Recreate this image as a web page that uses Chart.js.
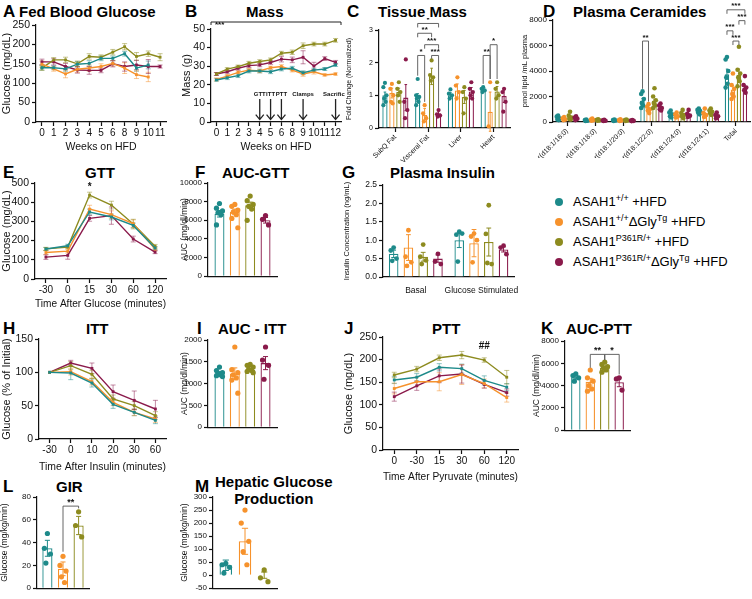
<!DOCTYPE html>
<html>
<head>
<meta charset="utf-8">
<title>ASAH1 HFD panels</title>
<script src="https://cdn.jsdelivr.net/npm/chart.js@4.4.1/dist/chart.umd.min.js"></script>
<style>
  body { margin: 0; width: 752px; height: 599px; position: relative; background: #fff; overflow: hidden;
         font-family: "Liberation Sans", Arial, Helvetica, sans-serif; color: #000; }
  canvas { position: absolute; }
  .let { position: absolute; font-weight: bold; font-size: 17px; line-height: 1; }
  .ttl { position: absolute; font-weight: bold; font-size: 15px; line-height: 1; white-space: nowrap; }
  #legend { position: absolute; left: 553px; top: 193px; font-size: 13px; }
  #legend div { height: 20px; line-height: 18px; position: relative; padding-left: 20px; white-space: nowrap; }
  #legend i { position: absolute; left: 2px; top: 5px; width: 8px; height: 8px; border-radius: 50%; }
  #legend sup { font-size: 9px; vertical-align: 5px; line-height: 0; }
</style>
</head>
<body>
<div class="let" style="left:3px;top:3px">A</div><div class="ttl" style="left:19px;top:4px">Fed Blood Glucose</div>
<div class="let" style="left:185px;top:3px">B</div><div class="ttl" style="left:246px;top:4px">Mass</div>
<div class="let" style="left:347px;top:3px">C</div><div class="ttl" style="left:378px;top:4px">Tissue Mass</div>
<div class="let" style="left:543px;top:3px">D</div><div class="ttl" style="left:573px;top:4px">Plasma Ceramides</div>
<div class="let" style="left:3px;top:164px">E</div><div class="ttl" style="left:85px;top:165px">GTT</div>
<div class="let" style="left:195px;top:164px">F</div><div class="ttl" style="left:222px;top:165px">AUC-GTT</div>
<div class="let" style="left:342px;top:164px">G</div><div class="ttl" style="left:390px;top:165px">Plasma Insulin</div>
<div class="let" style="left:3px;top:320px">H</div><div class="ttl" style="left:86px;top:321px">ITT</div>
<div class="let" style="left:197px;top:320px">I</div><div class="ttl" style="left:218px;top:321px">AUC - ITT</div>
<div class="let" style="left:344px;top:320px">J</div><div class="ttl" style="left:432px;top:321px">PTT</div>
<div class="let" style="left:541px;top:320px">K</div><div class="ttl" style="left:566px;top:321px">AUC-PTT</div>
<div class="let" style="left:3px;top:478px">L</div><div class="ttl" style="left:56px;top:479px">GIR</div>
<div class="let" style="left:195px;top:478px">M</div><div class="ttl" style="left:215px;top:473px;line-height:17px;text-align:center">Hepatic Glucose<br>Production</div>

<div id="legend">
  <div><i style="background:#1d8a8a"></i>ASAH1<sup>+/+</sup> +HFD</div>
  <div><i style="background:#f6922c"></i>ASAH1<sup>+/+</sup>ΔGly<sup>Tg</sup> +HFD</div>
  <div><i style="background:#8d8b1f"></i>ASAH1<sup>P361R/+</sup> +HFD</div>
  <div><i style="background:#8a1a4b"></i>ASAH1<sup>P361R/+</sup>ΔGly<sup>Tg</sup> +HFD</div>
</div>

<canvas id="cA"></canvas><canvas id="cB"></canvas><canvas id="cC"></canvas><canvas id="cD"></canvas>
<canvas id="cE"></canvas><canvas id="cF"></canvas><canvas id="cG"></canvas>
<canvas id="cH"></canvas><canvas id="cI"></canvas><canvas id="cJ"></canvas><canvas id="cK"></canvas>
<canvas id="cL"></canvas><canvas id="cM"></canvas>

<script>
// group colours: ASAH1+/+, +/+ dGly, P361R/+, P361R/+ dGly
const COLORS = ['#1d8a8a', '#f6922c', '#8d8b1f', '#8a1a4b'];

// A - fed blood glucose (mg/dL)
const fedWeeks = ['0', '1', '2', '3', '4', '5', '6', '8', '9', '10', '11'];
const fedTeal = [140, 140, 137, 149, 151, 164, 164, 176, 139, 147, null];
const fedOrange = [149, 137, 124, 136, 139, 143, 151, 139, 122, 116, null];
const fedOlive = [139, 160, 160, 150, 169, 167, 180, 194, 169, 176, 167];
const fedMaroon = [155, 155, 143, 134, 133, 133, 150, 143, 147, 143, 143];
const fedTealErr = [6, 5, 6, 7, 7, 6, 6, 6, 8, 10, 0];
const fedOrangeErr = [8, 6, 10, 8, 8, 7, 7, 14, 10, 12, 0];
const fedOliveErr = [6, 6, 7, 7, 7, 6, 7, 8, 10, 7, 9];
const fedMaroonErr = [7, 8, 8, 8, 10, 6, 8, 12, 12, 18, 4];

// B - body mass (g)
const massWeeks = ['0', '1', '2', '3', '4', '5', '6', '8', '9', '10', '11', '12'];
const massTeal = [22.6, 23.8, 24.9, 27.4, 27.4, 27.0, 28.5, 28.9, 26.5, 27.9, 28.5, 30.7];
const massOrange = [22.9, 24.7, 26.7, 27.9, 27.4, 29.2, 29.8, 27.9, 25.8, 27.0, 25.3, 25.8];
const massOlive = [25.8, 28.4, 29.8, 31.6, 32.5, 33.4, 37.0, 37.5, 41.0, 41.9, 41.9, 43.9];
const massMaroon = [25.8, 27.0, 28.9, 30.3, 30.7, 32.0, 33.8, 33.4, 34.8, 30.1, 34.1, 32.1];
const massTealErr = [0.6, 1, 1, 1, 1, 1, 1, 1, 1, 1, 0.8, 0.8];
const massOrangeErr = [0.8, 0.8, 0.8, 0.8, 0.9, 0.8, 1, 1, 1.2, 1.2, 0.6, 0.6];
const massOliveErr = [0.7, 0.8, 0.8, 1, 1, 1, 1, 1.2, 1.5, 1, 1, 1];
const massMaroonErr = [0.8, 0.8, 1, 1, 1, 1, 1.5, 1.5, 3.5, 2, 1, 1];
const massEventWeeks = ['4', '5', '6', '9', '12'];
const massEventNames = ['GTT', 'ITT', 'PTT', 'Clamps', 'Sacrifice'];

// C - tissue mass (fold change)
const tissueCats = ['SubQ Fat', 'Visceral Fat', 'Liver', 'Heart'];
const tissueTeal = [1.0, 0.93, 1.0, 1.18];
const tissueOrange = [1.07, 0.4, 1.15, 0.5];
const tissueOlive = [1.1, 1.58, 0.95, 1.12];
const tissueMaroon = [0.93, 0.45, 1.12, 0.98];
const tissueTealErr = [0.1, 0.12, 0.08, 0.05];
const tissueOrangeErr = [0.15, 0.2, 0.2, 0.6];
const tissueOliveErr = [0.12, 0.25, 0.2, 0.15];
const tissueMaroonErr = [0.4, 0.08, 0.12, 0.2];
const tissuePtsTeal = [[1.38, 1.25, 1.0, 0.9, 0.8, 0.7], [1.5, 1.0, 0.95, 0.9, 0.8, 0.7], [1.18, 1.05, 1.0, 0.9], [1.25, 1.2, 1.15, 1.1]];
const tissuePtsOrange = [[1.35, 1.2, 1.0, 0.8, 0.75], [0.7, 0.45, 0.3, 0.2], [1.55, 1.3, 1.1, 0.9], [1.4, 0.05]];
const tissuePtsOlive = [[1.4, 1.2, 1.1, 1.0, 0.8], [2.07, 1.62, 1.55, 1.45], [1.25, 1.1, 0.9, 0.45], [1.4, 1.2, 1.0, 0.9]];
const tissuePtsMaroon = [[2.1, 0.8, 0.55, 0.3], [0.55, 0.42, 0.38, 0.35], [1.4, 1.2, 1.1, 1.0, 0.9], [1.2, 1.1, 0.8, 0.5]];

// D - plasma ceramides (pmol lipid / mL plasma)
const cerCats = ['Cer(d18:1/16:0)', 'Cer(d18:1/18:0)', 'Cer(d18:1/20:0)', 'Cer(d18:1/22:0)', 'Cer(d18:1/24:0)', 'Cer(d18:1/24:1)', 'Total'];
const cerTeal = [300, 120, 130, 1650, 600, 850, 3750];
const cerOrange = [250, 180, 130, 1000, 500, 600, 2550];
const cerOlive = [400, 150, 130, 1500, 550, 800, 3700];
const cerMaroon = [300, 120, 100, 1150, 550, 500, 2700];
const cerTealErr = [80, 30, 30, 200, 100, 80, 400];
const cerOrangeErr = [60, 40, 30, 150, 80, 120, 300];
const cerOliveErr = [120, 30, 30, 250, 110, 90, 450];
const cerMaroonErr = [70, 25, 20, 120, 100, 90, 200];
const cerPtsTeal = [[500, 420, 300, 200, 150], [200, 150, 100, 80], [200, 150, 120, 80], [2400, 2200, 1800, 1500, 1300, 1100], [900, 750, 600, 450, 350], [1050, 950, 850, 750, 600], [5100, 4900, 4000, 3500, 3000, 2700]];
const cerPtsOrange = [[380, 300, 200, 150], [280, 200, 150, 100], [220, 160, 120, 80], [1400, 1200, 1000, 900, 700], [750, 600, 450, 350], [1050, 700, 550, 400], [3800, 2900, 2600, 2200, 2000, 1800]];
const cerPtsOlive = [[800, 500, 350, 250, 200], [220, 180, 130, 100], [200, 150, 120, 90], [2650, 2000, 1700, 1500, 1300, 1100], [950, 700, 550, 450, 300], [1050, 900, 800, 700, 550], [5900, 4100, 3800, 3500, 3200, 2800]];
const cerPtsMaroon = [[450, 350, 250, 150], [180, 130, 100, 80], [150, 120, 90, 70], [1450, 1300, 1100, 1000, 900], [950, 650, 500, 400], [750, 550, 450, 300], [3600, 2900, 2700, 2500, 2300]];

// E - GTT (mg/dL)
const gttTimes = ['-30', '0', '15', '30', '60', '120'];
const gttTeal = [156, 173, 349, 323, 279, 161];
const gttOrange = [138, 145, 364, 335, 288, 156];
const gttOlive = [157, 166, 437, 385, 286, 170];
const gttMaroon = [114, 123, 316, 330, 208, 140];
const gttTealErr = [8, 8, 15, 15, 12, 8];
const gttOrangeErr = [10, 10, 20, 20, 20, 10];
const gttOliveErr = [8, 8, 15, 20, 25, 10];
const gttMaroonErr = [12, 20, 15, 45, 15, 8];

// F - AUC GTT
const aucGttMean = [6700, 6900, 7600, 6000];
const aucGttErr = [350, 300, 350, 300];
const aucGttPts = [[7800, 7300, 7000, 6800, 6600, 5500], [7700, 7500, 7100, 6900, 6600, 6200, 5200], [8600, 8100, 7700, 7500, 7200, 6000], [6500, 6100, 5500]];

// G - plasma insulin (ng/mL)
const insulinCats = ['Basal', 'Glucose Stimulated'];
const insTeal = [0.63, 1.0];
const insOrange = [0.8, 0.92];
const insOlive = [0.55, 0.95];
const insMaroon = [0.5, 0.75];
const insTealErr = [0.1, 0.2];
const insOrangeErr = [0.35, 0.37];
const insOliveErr = [0.12, 0.38];
const insMaroonErr = [0.1, 0.07];
const insPtsTeal = [[0.8, 0.72, 0.5, 0.44], [1.23, 1.15, 1.18, 0.42]];
const insPtsOrange = [[1.27, 0.55, 0.4, 0.3], [1.18, 1.1, 1.0, 0.4]];
const insPtsOlive = [[0.88, 0.55, 0.45, 0.35], [1.95, 1.17, 0.35, 0.38]];
const insPtsMaroon = [[0.63, 0.42, 0.35], [0.85, 0.8, 0.62]];

// H - ITT (% of initial)
const ittTimes = ['-30', '0', '10', '20', '30', '60'];
const ittTeal = [100, 99, 84, 52, 40, 28];
const ittOrange = [100, 101, 86, 55, 40, 30];
const ittOlive = [100, 110, 97, 60, 50, 35];
const ittMaroon = [100, 114, 106, 71, 58, 45];
const ittTealErr = [0, 10, 6, 6, 5, 5];
const ittOrangeErr = [0, 5, 5, 5, 5, 5];
const ittOliveErr = [0, 6, 6, 6, 6, 6];
const ittMaroonErr = [0, 4, 8, 10, 14, 13];

// I - AUC ITT
const aucIttMean = [1240, 1230, 1310, 1470];
const aucIttErr = [40, 130, 30, 150];
const aucIttPts = [[1380, 1300, 1250, 1220, 1200, 1180, 1160], [1840, 1320, 1250, 1200, 1130, 1080, 780], [1440, 1420, 1380, 1330, 1300, 1280, 1250], [1840, 1540, 1420, 1100]];

// J - PTT (mg/dL)
const pttTimes = ['0', '-30', '15', '30', '60', '120'];
const pttTeal = [155, 161, 183, 180, 154, 139];
const pttOrange = [136, 151, 151, 167, 147, 116];
const pttOlive = [166, 179, 204, 210, 199, 161];
const pttMaroon = [118, 142, 164, 168, 145, 127];
const pttTealErr = [8, 8, 8, 10, 10, 8];
const pttOrangeErr = [12, 10, 20, 22, 10, 10];
const pttOliveErr = [6, 6, 6, 8, 5, 15];
const pttMaroonErr = [10, 10, 15, 20, 8, 8];

// K - AUC PTT
const aucPttMean = [4750, 4350, 5600, 4300];
const aucPttErr = [150, 300, 150, 400];
const aucPttPts = [[5050, 4900, 4700, 4400], [5400, 4700, 4400, 4000, 3700, 3500], [6100, 5900, 5700, 5600, 5400, 5200], [4700, 4600, 3600]];

// L - GIR (mg/kg/min), three groups
const girMean = [35, 17, 55];
const girErr = [7, 6, 8];
const girPts = [[48, 35, 30, 22], [28, 20, 15, 10, 5], [67, 55, 45]];

// M - hepatic glucose production (mg/kg/min), three groups
const hgpMean = [38, 130, 0];
const hgpErr = [20, 50, 12];
const hgpPts = [[45, 40, 30, 8], [250, 200, 130, 90, 40], [20, -10, -25]];

Chart.defaults.font.family = '"Liberation Sans", Arial, sans-serif';
Chart.defaults.color = '#111';
Chart.defaults.animation = false;
Chart.defaults.plugins.legend.display = false;
Chart.defaults.plugins.tooltip.enabled = false;

function place(id, left, top, w, h) {
  const c = document.getElementById(id);
  c.width = w; c.height = h;
  c.style.left = left + 'px'; c.style.top = top + 'px';
  return c;
}

function yAxis(min, max, step, title, tSize, sSize, w, fmt) {
  return {
    min: min, max: max,
    afterFit: s => { s.width = w; },
    border: { color: '#111', width: 1.2 },
    grid: { drawOnChartArea: false, color: '#111', tickLength: 4, tickWidth: 1.2 },
    ticks: { stepSize: step, font: { size: tSize }, color: '#111', padding: 2, callback: fmt || (v => String(v)) },
    title: { display: !!title, text: title, font: { size: sSize }, color: '#111', padding: { top: 0, bottom: 2 } }
  };
}

function xAxis(title, tSize, sSize, h, pad, extra) {
  return Object.assign({
    offset: true,
    afterFit: s => { s.height = h; },
    border: { color: '#111', width: 1.2 },
    grid: { drawOnChartArea: false, offset: false, color: '#111', tickLength: 4, tickWidth: 1.2 },
    ticks: { font: { size: tSize }, color: '#111', padding: pad, autoSkip: false, maxRotation: 0 },
    title: { display: !!title, text: title, font: { size: sSize }, color: '#111', padding: { top: 2, bottom: 3 } }
  }, extra || {});
}

function xBlank(h) {
  return {
    afterFit: s => { s.height = h; },
    border: { color: '#111', width: 1.2 },
    grid: { display: false },
    ticks: { display: false }
  };
}

// error bars behind line series
const lineErr = {
  id: 'lineErr',
  beforeDatasetsDraw(chart) {
    const ctx = chart.ctx, ys = chart.scales.y;
    chart.data.datasets.forEach((ds, di) => {
      const meta = chart.getDatasetMeta(di);
      ctx.save();
      ctx.strokeStyle = ds.borderColor;
      ctx.globalAlpha = 0.5;
      ctx.lineWidth = 1;
      meta.data.forEach((pt, i) => {
        const v = ds.data[i], e = ds.errs[i];
        if (v == null || !e) return;
        const t = ys.getPixelForValue(v + e), b = ys.getPixelForValue(v - e);
        ctx.beginPath();
        ctx.moveTo(pt.x, t); ctx.lineTo(pt.x, b);
        ctx.moveTo(pt.x - 2.5, t); ctx.lineTo(pt.x + 2.5, t);
        ctx.moveTo(pt.x - 2.5, b); ctx.lineTo(pt.x + 2.5, b);
        ctx.stroke();
      });
      ctx.restore();
    });
  }
};

// error bars + individual animals on bars
const JIT = [0, -0.3, 0.3, -0.15, 0.15, -0.3, 0.3, 0];
const barMarks = {
  id: 'barMarks',
  afterDatasetsDraw(chart, args, opts) {
    const ctx = chart.ctx, ys = chart.scales.y, r = opts.r || 2.3;
    chart.data.datasets.forEach((ds, di) => {
      const meta = chart.getDatasetMeta(di);
      meta.data.forEach((bar, ci) => {
        const m = ds.data[ci], e = ds.errs[ci], w = bar.width;
        ctx.save();
        ctx.strokeStyle = ds.borderColor; ctx.lineWidth = 1;
        const t = ys.getPixelForValue(m + e), b = ys.getPixelForValue(m - e);
        ctx.beginPath();
        ctx.moveTo(bar.x, t); ctx.lineTo(bar.x, b);
        ctx.moveTo(bar.x - w * 0.25, t); ctx.lineTo(bar.x + w * 0.25, t);
        ctx.moveTo(bar.x - w * 0.25, b); ctx.lineTo(bar.x + w * 0.25, b);
        ctx.stroke();
        ctx.fillStyle = ds.borderColor;
        ds.pts[ci].forEach((v, k) => {
          ctx.beginPath();
          ctx.arc(bar.x + JIT[k % JIT.length] * w, ys.getPixelForValue(v), r, 0, 2 * Math.PI);
          ctx.fill();
        });
        ctx.restore();
      });
    });
  }
};

// significance brackets between bars
const sigMarks = {
  id: 'sigMarks',
  afterDraw(chart, args, opts) {
    if (!opts.items) return;
    const ctx = chart.ctx, ys = chart.scales.y;
    ctx.save();
    ctx.strokeStyle = '#555'; ctx.lineWidth = 0.9; ctx.fillStyle = '#111';
    ctx.font = 'bold ' + (opts.size || 9) + 'px "Liberation Sans", Arial';
    ctx.textAlign = 'center';
    opts.items.forEach(s => {
      const xa = chart.getDatasetMeta(s.a).data[s.c].x;
      const xb = chart.getDatasetMeta(s.b).data[s.c].x;
      const y = ys.getPixelForValue(s.v);
      const ya = s.la != null ? ys.getPixelForValue(s.la) : y + 4;
      const yb = s.lb != null ? ys.getPixelForValue(s.lb) : y + 4;
      ctx.beginPath();
      ctx.moveTo(xa, ya); ctx.lineTo(xa, y); ctx.lineTo(xb, y); ctx.lineTo(xb, yb);
      ctx.stroke();
      ctx.fillText(s.t, (xa + xb) / 2, y - 1.5);
    });
    ctx.restore();
  }
};

// free text marks at a category / value
const textMarks = {
  id: 'textMarks',
  afterDraw(chart, args, opts) {
    if (!opts.items) return;
    const ctx = chart.ctx;
    ctx.save();
    ctx.fillStyle = '#111'; ctx.textAlign = 'center';
    ctx.font = 'bold ' + (opts.size || 10) + 'px "Liberation Sans", Arial';
    opts.items.forEach(n => {
      ctx.fillText(n.t, chart.scales.x.getPixelForValue(n.i), chart.scales.y.getPixelForValue(n.v));
    });
    ctx.restore();
  }
};

// B: study timeline arrows and overall bracket
const massNotes = {
  id: 'massNotes',
  afterDraw(chart) {
    const ctx = chart.ctx, xs = chart.scales.x, ys = chart.scales.y, ca = chart.chartArea;
    ctx.save();
    ctx.strokeStyle = '#222'; ctx.fillStyle = '#111'; ctx.lineWidth = 1;
    const yb = ca.top - 7;
    ctx.beginPath();
    ctx.moveTo(ca.left, yb + 3); ctx.lineTo(ca.left, yb); ctx.lineTo(ca.right, yb); ctx.lineTo(ca.right, yb + 3);
    ctx.stroke();
    ctx.font = 'bold 8px "Liberation Sans", Arial';
    ctx.fillText('***', ca.left + 4, yb + 5);
    ctx.textAlign = 'center';
    ctx.font = 'bold 6px "Liberation Sans", Arial';
    ctx.lineWidth = 1.3;
    massEventWeeks.forEach((wk, k) => {
      const x = xs.getPixelForValue(massWeeks.indexOf(wk));
      ctx.fillText(massEventNames[k], x, ys.getPixelForValue(14.2));
      const y1 = ys.getPixelForValue(12.3), y2 = ys.getPixelForValue(1.3);
      ctx.beginPath();
      ctx.moveTo(x, y1); ctx.lineTo(x, y2);
      ctx.moveTo(x - 4, y2 - 5); ctx.lineTo(x, y2); ctx.lineTo(x + 4, y2 - 5);
      ctx.stroke();
    });
    ctx.restore();
  }
};

function lineChart(id, geo, labels, series, errs, y, x, extra) {
  const c = place(id, geo[0], geo[1], geo[2], geo[3]);
  return new Chart(c, {
    type: 'line',
    data: {
      labels: labels,
      datasets: series.map((d, i) => ({
        data: d, errs: errs[i], borderColor: COLORS[i], backgroundColor: COLORS[i],
        borderWidth: 1.4, pointRadius: 2, pointStyle: 'rect', pointBorderWidth: 0, tension: 0
      }))
    },
    options: {
      responsive: false,
      layout: { padding: geo[4] },
      scales: { x: x, y: y },
      plugins: { textMarks: extra || {} }
    },
    plugins: [lineErr, textMarks].concat(id === 'cB' ? [massNotes] : [])
  });
}

function barChart(id, geo, labels, means, errs, pts, y, x, cp, bp, r, sig) {
  const c = place(id, geo[0], geo[1], geo[2], geo[3]);
  const single = labels.length === 1;
  return new Chart(c, {
    type: 'bar',
    data: {
      labels: labels,
      datasets: means.map((m, i) => ({
        data: single ? [m] : m,
        errs: single ? [errs[i]] : errs[i],
        pts: single ? [pts[i]] : pts[i],
        borderColor: COLORS[i], backgroundColor: 'rgba(255,255,255,0.9)',
        borderWidth: 1.3, categoryPercentage: cp, barPercentage: bp
      }))
    },
    options: {
      responsive: false,
      layout: { padding: geo[4] },
      scales: { x: x, y: y },
      plugins: { barMarks: { r: r }, sigMarks: sig || {} }
    },
    plugins: [barMarks, sigMarks]
  });
}

const rotTicks = { ticks: { font: { size: 7 }, color: '#111', padding: 1, autoSkip: false, minRotation: 45, maxRotation: 45 } };

// A
lineChart('cA', [0, 15, 170, 141, { top: 10, right: 3 }], fedWeeks,
  [fedTeal, fedOrange, fedOlive, fedMaroon], [fedTealErr, fedOrangeErr, fedOliveErr, fedMaroonErr],
  yAxis(0, 250, 50, 'Glucose (mg/dL)', 10.5, 11, 36), xAxis('Weeks on HFD', 10, 10.5, 34, 1));

// B
lineChart('cB', [180, 15, 165, 141, { top: 14, right: 3 }], massWeeks,
  [massTeal, massOrange, massOlive, massMaroon], [massTealErr, massOrangeErr, massOliveErr, massMaroonErr],
  yAxis(0, 50, 10, 'Mass (g)', 10.5, 11, 31), xAxis('Weeks on HFD', 10, 10.5, 34, 1));

// C
barChart('cC', [345, 18, 167, 145, { top: 12, right: 2 }], tissueCats,
  [tissueTeal, tissueOrange, tissueOlive, tissueMaroon],
  [tissueTealErr, tissueOrangeErr, tissueOliveErr, tissueMaroonErr],
  [tissuePtsTeal, tissuePtsOrange, tissuePtsOlive, tissuePtsMaroon],
  yAxis(0, 3, 1, 'Fold Change (Normalized)', 7, 7, 34),
  xAxis('', 7, 7, 35, 1, rotTicks),
  0.85, 0.75, 2.1,
  { size: 8, items: [
    { c: 1, a: 0, b: 3, v: 3.2, t: '*' },
    { c: 1, a: 0, b: 2, v: 2.9, t: '**' },
    { c: 1, a: 1, b: 3, v: 2.55, t: '***' },
    { c: 1, a: 0, b: 1, v: 2.22, t: '*', la: 1.6, lb: 0.8 },
    { c: 1, a: 2, b: 3, v: 2.22, t: '***', la: 2.12, lb: 0.62 },
    { c: 3, a: 1, b: 2, v: 2.55, t: '*', la: 1.5, lb: 1.5 },
    { c: 3, a: 0, b: 1, v: 2.22, t: '**', la: 1.35, lb: 1.5 }
  ] });

// D
barChart('cD', [520, 0, 232, 158, { top: 20, right: 2 }], cerCats,
  [cerTeal, cerOrange, cerOlive, cerMaroon],
  [cerTealErr, cerOrangeErr, cerOliveErr, cerMaroonErr],
  [cerPtsTeal, cerPtsOrange, cerPtsOlive, cerPtsMaroon],
  yAxis(0, 8000, 2000, 'pmol lipid /mL plasma', 8, 7.5, 33),
  xAxis('', 7, 7, 36, 1, rotTicks),
  0.85, 0.75, 2.3,
  { size: 8, items: [
    { c: 6, a: 0, b: 3, v: 8800, t: '***' },
    { c: 6, a: 2, b: 3, v: 7950, t: '***' },
    { c: 6, a: 0, b: 1, v: 7150, t: '***' },
    { c: 6, a: 1, b: 2, v: 6350, t: '***' },
    { c: 3, a: 0, b: 1, v: 6350, t: '**', la: 2600, lb: 1600 }
  ] });

// E
lineChart('cE', [0, 170, 170, 143, { top: 13, right: 3 }], gttTimes,
  [gttTeal, gttOrange, gttOlive, gttMaroon], [gttTealErr, gttOrangeErr, gttOliveErr, gttMaroonErr],
  yAxis(0, 500, 100, 'Glucose (mg/dL)', 10.5, 11, 35), xAxis('Time After Glucose (minutes)', 10, 10.5, 34, 1),
  { size: 10, items: [{ i: 2, v: 462, t: '*' }] });

// F
barChart('cF', [180, 170, 100, 113, { top: 13, right: 3 }], [''],
  aucGttMean, aucGttErr, aucGttPts,
  yAxis(0, 10000, 2000, 'AUC (mg/dl/min)', 8, 8.5, 28), xBlank(3), 0.89, 0.65, 2.6);

// G
barChart('cG', [342, 172, 178, 121, { top: 13, right: 3 }], insulinCats,
  [insTeal, insOrange, insOlive, insMaroon],
  [insTealErr, insOrangeErr, insOliveErr, insMaroonErr],
  [insPtsTeal, insPtsOrange, insPtsOlive, insPtsMaroon],
  yAxis(0, 2.5, 0.5, 'Insulin Concentration (ng/mL)', 8.5, 7.5, 41, v => v.toFixed(1)),
  xAxis('', 8.5, 8, 16, 1, { grid: { display: false } }), 0.9, 0.65, 2.4);

// H
lineChart('cH', [0, 326, 170, 150, { top: 13, right: 3 }], ittTimes,
  [ittTeal, ittOrange, ittOlive, ittMaroon], [ittTealErr, ittOrangeErr, ittOliveErr, ittMaroonErr],
  yAxis(0, 150, 50, 'Glucose (% of Initial)', 10.5, 11, 39), xAxis('Time After Insulin (minutes)', 10, 10.5, 37, 1));

// I
barChart('cI', [180, 327, 100, 107, { top: 13, right: 3 }], [''],
  aucIttMean, aucIttErr, aucIttPts,
  yAxis(0, 2000, 500, 'AUC (mg/dl/min)', 8, 8.5, 28), xBlank(3), 0.89, 0.65, 2.6);

// J
lineChart('cJ', [342, 324, 180, 162, { top: 13, right: 3 }], pttTimes,
  [pttTeal, pttOrange, pttOlive, pttMaroon], [pttTealErr, pttOrangeErr, pttOliveErr, pttMaroonErr],
  yAxis(0, 250, 50, 'Glucose (mg/dL)', 10.5, 11, 41), xAxis('Time After Pyruvate (minutes)', 10, 10.5, 36, 1),
  { size: 10, items: [{ i: 4, v: 223, t: '##' }] });

// K
barChart('cK', [532, 328, 101, 109, { top: 13, right: 3 }], [''],
  aucPttMean, aucPttErr, aucPttPts,
  yAxis(0, 8000, 2000, 'AUC (mg/dl/min)', 8, 8.5, 33), xBlank(3), 0.89, 0.65, 2.6,
  { size: 9, items: [
    { c: 0, a: 1, b: 2, v: 6800, t: '**', la: 5600, lb: 6300 },
    { c: 0, a: 2, b: 3, v: 6800, t: '*', la: 6300, lb: 5000 }
  ] });

// L
barChart('cL', [0, 484, 92, 111, { top: 13, right: 3 }], [''],
  girMean, girErr, girPts,
  yAxis(0, 80, 20, 'Glucose (mg/kg/min)', 8, 8.5, 37), xBlank(3), 0.9, 0.65, 2.6,
  { size: 9, items: [{ c: 0, a: 1, b: 2, v: 72, t: '**', la: 32, lb: 70 }] });

// M
barChart('cM', [180, 484, 100, 111, { top: 13, right: 3 }], [''],
  hgpMean, hgpErr, hgpPts,
  yAxis(-50, 300, 50, 'Glucose (mg/kg/min)', 8, 8.5, 33), xBlank(3), 0.9, 0.65, 2.6);
</script>
</body>
</html>
